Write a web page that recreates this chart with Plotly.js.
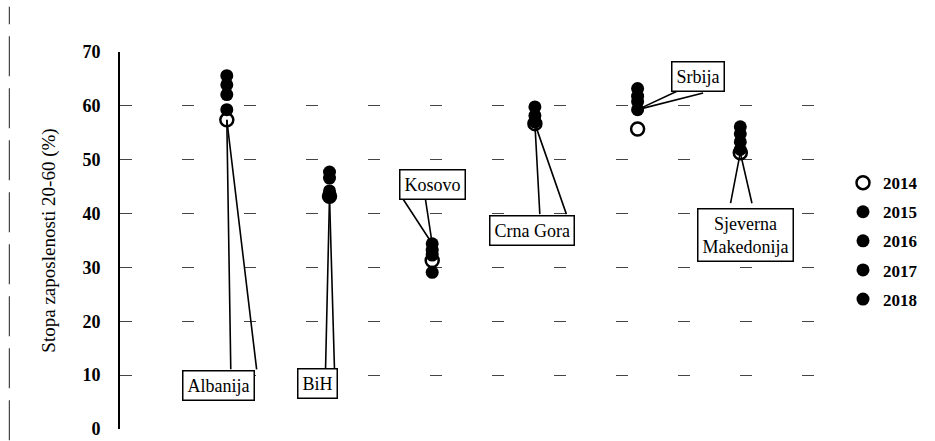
<!DOCTYPE html>
<html>
<head>
<meta charset="utf-8">
<script src="https://cdn.plot.ly/plotly-3.0.1.min.js"></script>
<style>
  html, body { margin: 0; padding: 0; background: #fff; }
  #chart { width: 935px; height: 441px; }
</style>
</head>
<body>
<div id="chart"></div>
<script>
// countries along the x axis (no tick labels, names go in callouts)
const countries = ["Albanija", "BiH", "Kosovo", "Crna Gora", "Srbija", "Sjeverna Makedonija"];
const years = ["2014", "2015", "2016", "2017", "2018"];

// employment rate 20-64 (%) per year, same order as countries
const v2014 = [57.4, 43.2, 31.3, 56.7, 55.7, 51.3];
const v2015 = [59.3, 43.2, 29.1, 57.1, 59.3, 51.9];
const v2016 = [62.1, 44.2, 32.3, 57.0, 60.8, 53.3];
const v2017 = [63.9, 46.6, 34.4, 58.2, 61.8, 54.8];
const v2018 = [65.6, 47.7, 33.2, 59.8, 63.2, 56.1];
const series = [v2014, v2015, v2016, v2017, v2018];

// callout labels and the value they point at
const calloutText = ["Albanija", "BiH", "Kosovo", "Crna Gora", "Srbija", "Sjeverna<br>Makedonija"];
const calloutY = [57.4, 43.2, 34.4, 56.7, 59.3, 51.3];

// callout geometry (px): label shift and the two wedge tails
const labelShift = [[-8, -266], [-12, -187], [0, 59], [-3, -107], [60, 33], [5, -82]];
const wedgeA = [[4, 251], [-4, 174], [-30, -46], [5, 92], [43, -20], [-10, 52]];
const wedgeB = [[30, 251], [5, 174], [-7, -46], [32, 92], [67, -17], [12, 52]];

const serif = "Liberation Serif, Times New Roman, serif";

const traces = series.map((vals, i) => ({
  type: "scatter",
  mode: "markers",
  name: "<b>" + years[i] + "</b>",
  legendgroup: "g" + i,
  x: countries,
  y: vals,
  marker: {
    size: 13,
    color: i === 0 ? "#fff" : "#000",
    line: { color: "#000", width: i === 0 ? 2.5 : 0 }
  },
  hoverinfo: "x+y+name"
}));

const annotations = [];
countries.forEach((c, i) => {
  [wedgeA[i], wedgeB[i]].forEach(t => {
    annotations.push({
      x: c, y: calloutY[i], xref: "x", yref: "y",
      text: "",
      showarrow: true,
      arrowhead: 0,
      arrowwidth: 1.6,
      arrowcolor: "#000",
      standoff: 0,
      ax: t[0], ay: t[1]
    });
  });
});
countries.forEach((c, i) => {
  annotations.push({
    x: c, y: calloutY[i], xref: "x", yref: "y",
    text: calloutText[i],
    showarrow: false,
    xshift: labelShift[i][0],
    yshift: labelShift[i][1],
    bgcolor: "#fff",
    bordercolor: "#000",
    borderwidth: 1.5,
    borderpad: 4,
    font: { family: serif, size: 18, color: "#000" }
  });
});

const layout = {
  width: 935,
  height: 441,
  margin: { l: 120, r: 83, t: 52, b: 12 },
  paper_bgcolor: "#fff",
  plot_bgcolor: "#fff",
  showlegend: true,
  legend: {
    x: 1.0,
    y: 0.70,
    xanchor: "left",
    yanchor: "top",
    font: { family: serif, size: 17, color: "#000" },
    itemwidth: 30,
    tracegroupgap: 4
  },
  xaxis: {
    type: "category",
    range: [-1.04, 6],
    showticklabels: false,
    showgrid: false,
    zeroline: false,
    showline: false,
    ticks: ""
  },
  yaxis: {
    range: [0, 70],
    dtick: 10,
    showline: true,
    linecolor: "#000",
    linewidth: 2,
    ticks: "",
    ticklabelstandoff: 14,
    ticklabeloverflow: "allow",
    showgrid: true,
    gridcolor: "#444",
    gridwidth: 1,
    griddash: "12px,50px",
    zeroline: false,
    tickfont: { family: serif, size: 18, color: "#000", weight: "bold" },
    title: {
      text: "Stopa zaposlenosti 20-60 (%)",
      standoff: 22,
      font: { family: serif, size: 19, color: "#000" }
    }
  },
  annotations: annotations,
  shapes: [{
    type: "line",
    xref: "paper",
    yref: "paper",
    x0: -0.153, x1: -0.153,
    y0: -0.03, y1: 1.12,
    line: { color: "#444", width: 1.2, dash: "40px,12px" }
  }]
};

Plotly.newPlot("chart", traces, layout, { displayModeBar: false, staticPlot: true });
</script>
</body>
</html>
